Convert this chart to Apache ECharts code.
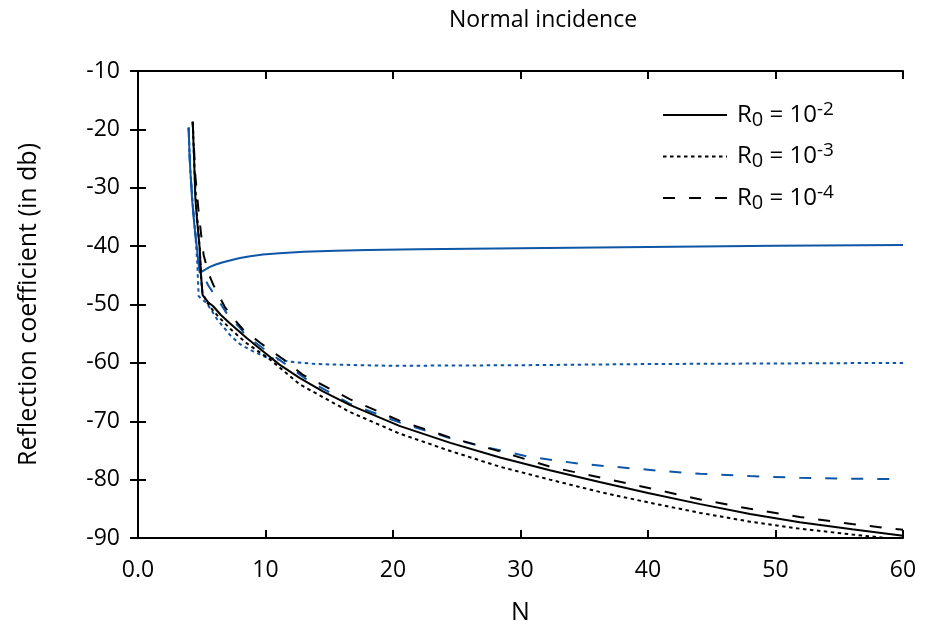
<!DOCTYPE html>
<html>
<head>
<meta charset="utf-8">
<script src="https://cdn.jsdelivr.net/npm/echarts@6/dist/echarts.min.js"></script>
<style>
  html, body { margin: 0; padding: 0; background: #fff; }
  #chart { width: 925px; height: 630px; }
</style>
</head>
<body>
<div id="chart"></div>
<script>
// x axis ticks (N) and y axis ticks (dB)
const xTicks = [0, 10, 20, 30, 40, 50, 60];
const yTicks = [-90, -80, -70, -60, -50, -40, -30, -20, -10];

// legend labels: R0 = 10^-2, 10^-3, 10^-4
const legendExp = ['-2', '-3', '-4'];
const legendNames = ['R0 = 10^-2', 'R0 = 10^-3', 'R0 = 10^-4'];

// black curves [N, dB]
const blackR2 = [[4.29,-18.7],[4.4,-25],[4.5,-31.9],[4.65,-36],[4.84,-40.4],[4.94,-45],[5.07,-48.4],[5.5,-49.6],[5.9,-50.3],[6.5,-51.8],[7.2,-53.2],[8.5,-55.7],[9.8,-58],[11.1,-60.3],[12.7,-62.6],[14.5,-64.9],[16.6,-67.2],[20.5,-70.8],[24.5,-73.7],[28.4,-76.2],[32.3,-78.4],[36.2,-80.4],[40,-82.3],[44.1,-84.2],[48,-85.9],[51.9,-87.3],[56,-88.5],[60,-89.6]];
const blackR3 = [[4.29,-18.7],[4.45,-28],[4.6,-34],[4.84,-40.4],[4.97,-46],[5.05,-48],[5.4,-49.6],[5.8,-50.8],[6.4,-52.3],[7.3,-54.3],[8.5,-56.6],[10.35,-59.4],[12.7,-63.7],[16.6,-68.4],[20.5,-72.1],[24.5,-75.1],[28.4,-77.8],[32.3,-80],[36.2,-82.1],[40,-83.9],[44.1,-85.7],[48,-87.2],[51.9,-88.4],[56,-89.4],[60,-90.3]];
const blackR4 = [[4.29,-18.7],[4.5,-28],[4.75,-34],[4.95,-38],[5.15,-41.5],[5.5,-44.5],[5.9,-46.6],[6.3,-48.3],[6.8,-50.4],[7.5,-52.4],[8.2,-54.2],[9.6,-56.6],[11.4,-59.4],[12.9,-62],[16.6,-66.2],[20.5,-69.9],[24.5,-72.8],[28.6,-75.3],[32.5,-77.9],[36.8,-79.9],[40.4,-81.6],[44.1,-83.4],[48,-85],[51.9,-86.4],[56,-87.6],[60,-88.6]];

// blue curves [N, dB]
const blueR2 = [[3.97,-19.7],[4.05,-25],[4.24,-31.9],[4.4,-36],[4.57,-39.3],[4.75,-43],[4.84,-44.6],[5.2,-44.1],[5.6,-43.6],[6.1,-43.15],[6.6,-42.8],[7.2,-42.45],[8,-42.05],[8.8,-41.75],[9.8,-41.45],[11.1,-41.2],[13,-40.95],[15.5,-40.8],[18,-40.68],[22,-40.55],[30,-40.35],[40,-40.15],[50,-39.95],[60,-39.8]];
const blueR3 = [[3.97,-19.7],[4.1,-27],[4.3,-33],[4.5,-38],[4.65,-43],[4.76,-48.6],[5.4,-49.8],[6.2,-52.5],[7.2,-55.2],[8,-56.8],[9,-58],[10,-59],[11.9,-59.8],[14,-60.2],[17.4,-60.4],[20,-60.5],[30,-60.4],[40,-60.2],[50,-60.1],[60,-60]];
const blueR4 = [[3.97,-19.7],[4.1,-27],[4.3,-33],[4.5,-38],[4.7,-42],[5.0,-44.5],[5.5,-46.7],[5.9,-48],[6.6,-50.3],[7.1,-52],[8,-54],[8.4,-55.2],[9.8,-57.5],[11.3,-59.8],[13.2,-62.8],[16.6,-67],[20.5,-70.2],[24.5,-72.9],[26.8,-74.2],[30.7,-76.1],[34.7,-77.3],[41,-78.5],[44.1,-79],[48,-79.4],[51.9,-79.7],[56,-79.85],[60,-79.9]];

const BLUE = '#0e56a6';
const FONT = 'Open Sans';
const dashTypes = ['solid', [3.5, 3.5], [12, 14]];

const chart = echarts.init(document.getElementById('chart'));

function mkSeries(name, data, color, dash) {
  return {
    name: name,
    type: 'line',
    data: data,
    symbol: 'none',
    smooth: false,
    clip: true,
    lineStyle: { color: color, width: 2, type: dash },
    itemStyle: { color: color },
    emphasis: { disabled: true },
    animation: false
  };
}

const axisCommon = {
  axisLine: { lineStyle: { color: '#000', width: 2 } },
  axisTick: { inside: true, length: 8, lineStyle: { color: '#000', width: 2 } },
  splitLine: { show: false }
};

const option = {
  backgroundColor: '#fff',
  animation: false,
  title: {
    text: 'Normal incidence',
    left: 538,
    top: 4,
    textAlign: 'center',
    textStyle: { fontFamily: FONT, fontSize: 23, fontWeight: 'normal', color: '#000' }
  },
  legend: {
    data: legendNames,
    orient: 'vertical',
    left: 657,
    top: 95,
    itemWidth: 64,
    itemHeight: 14,
    itemGap: 11.5,
    itemStyle: { opacity: 0, borderWidth: 0 },
    textStyle: {
      fontFamily: FONT,
      color: '#000',
      rich: {
        r: { fontFamily: FONT, fontSize: 24, lineHeight: 30, color: '#000', padding: [0, 0, 0, 5] },
        s: { fontFamily: FONT, fontSize: 20, lineHeight: 12, color: '#000', verticalAlign: 'bottom' },
        b: { fontFamily: FONT, fontSize: 24, lineHeight: 30, color: '#000' },
        p: { fontFamily: FONT, fontSize: 19, lineHeight: 14, color: '#000', verticalAlign: 'top' }
      }
    },
    formatter: function (name) {
      const i = legendNames.indexOf(name);
      return '{r|R}{s|0}{b| = 10}{p|' + legendExp[i] + '}';
    }
  },
  grid: { left: 138, right: 22, top: 71, bottom: 89, containLabel: false },
  xAxis: [
    Object.assign({}, axisCommon, {
      type: 'value',
      min: xTicks[0],
      max: xTicks[xTicks.length - 1],
      interval: 10,
      name: 'N',
      nameLocation: 'middle',
      nameGap: 62,
      nameTextStyle: { fontFamily: FONT, fontSize: 25, color: '#000' },
      axisLabel: {
        margin: 21,
        fontFamily: FONT, fontSize: 23, color: '#000',
        formatter: function (v) { return v === 0 ? '0.0' : String(v); }
      }
    }),
    Object.assign({}, axisCommon, {
      type: 'value', position: 'top',
      min: xTicks[0], max: xTicks[xTicks.length - 1], interval: 10,
      axisLabel: { show: false }
    })
  ],
  yAxis: [
    Object.assign({}, axisCommon, {
      type: 'value',
      min: yTicks[0],
      max: yTicks[yTicks.length - 1],
      interval: 10,
      name: 'Reflection coefficient (in db)',
      nameLocation: 'middle',
      nameGap: 97,
      nameTextStyle: { fontFamily: FONT, fontSize: 25, color: '#000' },
      axisLabel: { margin: 18, fontFamily: FONT, fontSize: 23, color: '#000' }
    }),
    Object.assign({}, axisCommon, {
      type: 'value', position: 'right',
      min: yTicks[0], max: yTicks[yTicks.length - 1], interval: 10,
      axisLabel: { show: false }
    })
  ],
  series: [
    mkSeries('blue-2', blueR2, BLUE, dashTypes[0]),
    mkSeries('blue-3', blueR3, BLUE, dashTypes[1]),
    mkSeries('blue-4', blueR4, BLUE, dashTypes[2]),
    mkSeries(legendNames[0], blackR2, '#000', dashTypes[0]),
    mkSeries(legendNames[1], blackR3, '#000', dashTypes[1]),
    mkSeries(legendNames[2], blackR4, '#000', dashTypes[2])
  ]
};

chart.setOption(option);
</script>
</body>
</html>
